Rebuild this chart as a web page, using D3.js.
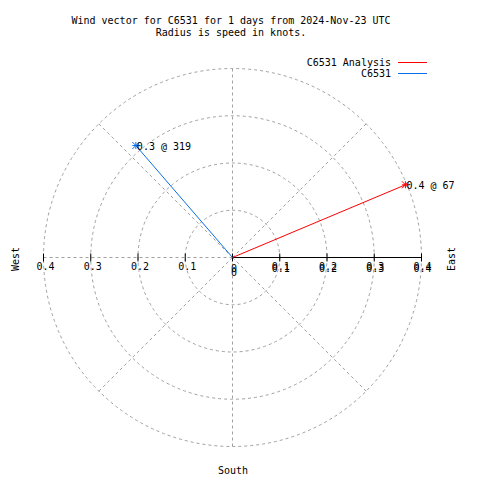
<!DOCTYPE html>
<html>
<head>
<meta charset="utf-8">
<script src="https://cdn.jsdelivr.net/npm/d3@7"></script>
<style>
  html, body { margin: 0; padding: 0; background: #fff; }
  svg { display: block; }
  text { font-family: "DejaVu Sans Mono", "Liberation Mono", monospace; font-size: 10px; fill: #000; }
  text.dbl { text-shadow: 0 2px 0 #000; }
  text.dbl0 { text-shadow: 0 4px 0 #000; }
</style>
</head>
<body>
<svg id="chart" width="480" height="480"></svg>
<script>
// ---- data ----
const titleLines = ["Wind vector for C6531 for 1 days from 2024-Nov-23 UTC", "Radius is speed in knots."];
const seriesNames = ["C6531 Analysis", "C6531"];
const speeds = [0.397, 0.313];          // knots
const directions = [67.2, 319.2];       // degrees, clockwise from north
const pointLabels = ["0.4 @ 67", "0.3 @ 319"];
const radialTicks = [0, 0.1, 0.2, 0.3, 0.4];
const radialTickLabels = ["0", "0.1", "0.2", "0.3", "0.4"];
const gridRadii = [0.1, 0.2, 0.3, 0.4];
const gridAngles = [0, 45, 90, 135, 180, 225, 270, 315];
const compassLabels = ["West", "East", "South"];

// ---- layout ----
const svg = d3.select("#chart");
const cx = 232.5, cy = 257.5;
const r = d3.scaleLinear().domain([0, 0.4]).range([0, 189]);
const color = d3.scaleOrdinal().domain(seriesNames).range(["#ff0000", "#0a6ee8"]);
const gridColor = "#a0a0a0";
const pt = (v, deg) => {
  const a = deg * Math.PI / 180;
  return [cx + r(v) * Math.sin(a), cy - r(v) * Math.cos(a)];
};

// title
svg.selectAll("text.title").data(titleLines).join("text")
  .attr("class", "title")
  .attr("x", 231).attr("y", (d, i) => 24 + i * 12)
  .attr("text-anchor", "middle")
  .text(d => d);

// grid circles
svg.append("g").selectAll("circle").data(gridRadii).join("circle")
  .attr("cx", cx).attr("cy", cy).attr("r", d => r(d))
  .attr("fill", "none").attr("stroke", gridColor)
  .attr("stroke-width", 1).attr("stroke-dasharray", "3,3");

// radial grid lines
svg.append("g").selectAll("line").data(gridAngles).join("line")
  .attr("x1", cx).attr("y1", cy)
  .attr("x2", d => pt(0.4, d)[0]).attr("y2", d => pt(0.4, d)[1])
  .attr("stroke", gridColor).attr("stroke-width", 1).attr("stroke-dasharray", "3,3");

// east axis: solid
svg.append("line")
  .attr("x1", cx).attr("y1", cy).attr("x2", cx + r(0.4)).attr("y2", cy)
  .attr("stroke", "#000").attr("stroke-width", 1);

// ticks both sides
const tickG = svg.append("g");
radialTicks.forEach(t => {
  [1, -1].forEach(s => {
    if (t === 0 && s === -1) return;
    tickG.append("line")
      .attr("x1", cx + s * r(t)).attr("x2", cx + s * r(t))
      .attr("y1", cy - 4).attr("y2", cy + 4)
      .attr("stroke", "#000").attr("stroke-width", 1);
  });
});

// tick labels: west side (single), east side (double-printed look)
const westTicks = radialTicks.filter(d => d > 0);
svg.append("g").selectAll("text").data(westTicks).join("text")
  .attr("x", d => cx - r(d) + 2).attr("y", 270)
  .attr("text-anchor", "middle")
  .text(d => radialTickLabels[radialTicks.indexOf(d)]);
svg.append("g").selectAll("text").data(radialTicks).join("text")
  .attr("class", d => d === 0 ? "dbl0" : "dbl")
  .attr("x", d => cx + r(d) + (d === 0 ? 1.5 : 1)).attr("y", d => d === 0 ? 272 : 270)
  .attr("text-anchor", "middle")
  .text((d, i) => radialTickLabels[i]);

// compass labels
svg.append("text").attr("transform", "translate(19,259) rotate(-90)")
  .attr("text-anchor", "middle").text(compassLabels[0]);
svg.append("text").attr("transform", "translate(455,259) rotate(-90)")
  .attr("text-anchor", "middle").text(compassLabels[1]);
svg.append("text").attr("x", 233).attr("y", 474)
  .attr("text-anchor", "middle").text(compassLabels[2]);

// vectors
const vec = svg.append("g");
seriesNames.forEach((name, i) => {
  const [x, y] = pt(speeds[i], directions[i]);
  vec.append("line")
    .attr("x1", cx).attr("y1", cy).attr("x2", x).attr("y2", y)
    .attr("stroke", color(name)).attr("stroke-width", 1);
  // asterisk marker
  const s = 3.5;
  vec.append("path")
    .attr("d", `M${x - s},${y}H${x + s}M${x},${y - s}V${y + s}M${x - s},${y - s}L${x + s},${y + s}M${x - s},${y + s}L${x + s},${y - s}`)
    .attr("stroke", color(name)).attr("stroke-width", 1).attr("fill", "none");
  vec.append("text")
    .attr("x", x + 1).attr("y", y + 4)
    .text(pointLabels[i]);
});

// legend
const leg = svg.append("g");
seriesNames.forEach((name, i) => {
  const y = 66 + i * 11;
  leg.append("text").attr("x", 391).attr("y", y).attr("text-anchor", "end").text(name);
  leg.append("line")
    .attr("x1", 398).attr("x2", 427).attr("y1", y - 3.5).attr("y2", y - 3.5)
    .attr("stroke", color(name)).attr("stroke-width", 1);
});
</script>
</body>
</html>
